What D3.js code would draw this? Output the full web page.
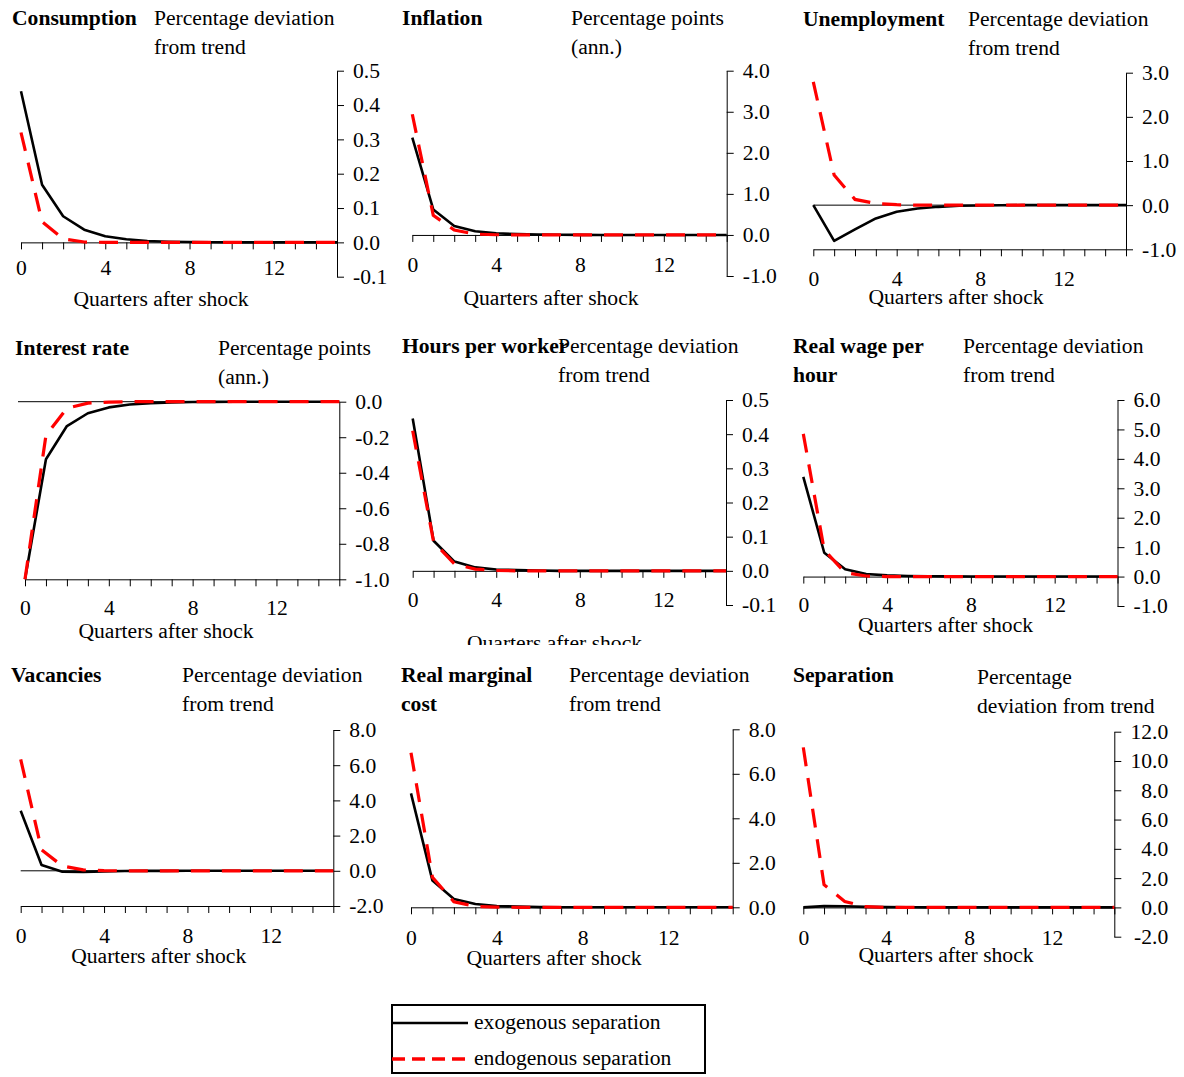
<!DOCTYPE html>
<html>
<head>
<meta charset="utf-8">
<script src="https://cdn.jsdelivr.net/npm/d3@7"></script>
<style>
  html, body { margin: 0; padding: 0; background: #fff; }
  svg { display: block; font-family: "Liberation Serif", "Times New Roman", serif; }
</style>
</head>
<body>
<div id="chart"></div>
<script>
// Quarters after the shock: 0..15
const quarters = d3.range(16);
const quarterLabels = [0, 4, 8, 12];

// Impulse responses (exogenous = black, endogenous = red dashed)
const consumptionExo = [0.44, 0.168, 0.076, 0.037, 0.018, 0.009, 0.004, 0.002, 0.001, 0.0005, 0, 0, 0, 0, 0, 0];
const consumptionEndo = [0.32, 0.06, 0.01, 0.001, 0, 0, 0, 0, 0, 0, 0, 0, 0, 0, 0, 0];
const inflationExo = [2.37, 0.62, 0.22, 0.09, 0.04, 0.02, 0.01, 0.005, 0.002, 0, 0, 0, 0, 0, 0, 0];
const inflationEndo = [2.94, 0.48, 0.12, 0.02, 0.005, 0, 0, 0, 0, 0, 0, 0, 0, 0, 0, 0];
const unemploymentExo = [0, -0.81, -0.55, -0.30, -0.15, -0.075, -0.038, -0.015, -0.007, -0.003, 0, 0, 0, 0, 0, 0];
const unemploymentEndo = [2.79, 0.68, 0.13, 0.04, 0.01, 0, 0, 0, 0, 0, 0, 0, 0, 0, 0, 0];
const interestExo = [-1.0, -0.324, -0.137, -0.065, -0.032, -0.016, -0.008, -0.004, -0.002, -0.001, 0, 0, 0, 0, 0, 0];
const interestEndo = [-1.0, -0.19, -0.037, -0.008, -0.002, 0, 0, 0, 0, 0, 0, 0, 0, 0, 0, 0];
const hoursExo = [0.446, 0.088, 0.027, 0.01, 0.004, 0.002, 0.001, 0, 0, 0, 0, 0, 0, 0, 0, 0];
const hoursEndo = [0.41, 0.085, 0.02, 0.005, 0.001, 0, 0, 0, 0, 0, 0, 0, 0, 0, 0, 0];
const wageExo = [3.39, 0.81, 0.25, 0.09, 0.04, 0.02, 0.01, 0.005, 0, 0, 0, 0, 0, 0, 0, 0];
const wageEndo = [4.85, 0.9, 0.13, 0.02, 0, 0, 0, 0, 0, 0, 0, 0, 0, 0, 0, 0];
const vacanciesExo = [3.41, 0.33, -0.05, -0.06, -0.03, -0.015, -0.007, -0.003, 0, 0, 0, 0, 0, 0, 0, 0];
const vacanciesEndo = [6.33, 1.2, 0.27, 0.05, 0.01, 0, 0, 0, 0, 0, 0, 0, 0, 0, 0, 0];
const marginalCostExo = [5.12, 1.2, 0.37, 0.15, 0.06, 0.03, 0.01, 0.005, 0, 0, 0, 0, 0, 0, 0, 0];
const marginalCostEndo = [6.95, 1.35, 0.25, 0.04, 0.01, 0, 0, 0, 0, 0, 0, 0, 0, 0, 0, 0];
const separationExo = [0, 0.09, 0.08, 0.04, 0.02, 0.01, 0.005, 0, 0, 0, 0, 0, 0, 0, 0, 0];
const separationEndo = [10.93, 1.55, 0.4, 0.05, 0, 0, 0, 0, 0, 0, 0, 0, 0, 0, 0, 0];

// Right-hand y-axis tick values
const ticksSmall = [-0.1, 0, 0.1, 0.2, 0.3, 0.4, 0.5];
const ticksInflation = [-1, 0, 1, 2, 3, 4];
const ticksUnemployment = [-1, 0, 1, 2, 3];
const ticksInterest = [-1, -0.8, -0.6, -0.4, -0.2, 0];
const ticksWage = [-1, 0, 1, 2, 3, 4, 5, 6];
const ticksVacancies = [-2, 0, 2, 4, 6, 8];
const ticksMarginalCost = [0, 2, 4, 6, 8];
const ticksSeparation = [-2, 0, 2, 4, 6, 8, 10, 12];

const legendLabels = ['exogenous separation', 'endogenous separation'];
const xTitle = 'Quarters after shock';

const W = 1184;
const H = 1077;
const FONT = 21.6;
const LINE_H = 28.5;

// Layout per panel (pixel boxes in the page, axis placement, label spots)
const panels = [
  { title: ['Consumption'], unit: ['Percentage deviation', 'from trend'],
    exo: consumptionExo, endo: consumptionEndo, ticks: ticksSmall,
    x0: 21, x1: 337, yTop: 70.7, yBot: 276.7, axisAt: 0, xLabY: 275,
    titleX: 12, titleY: 25, unitX: 154, xTitleX: 161, xTitleY: 306 },
  { title: ['Inflation'], unit: ['Percentage points', '(ann.)'],
    exo: inflationExo, endo: inflationEndo, ticks: ticksInflation,
    x0: 412.3, x1: 726.7, yTop: 70.7, yBot: 276, axisAt: 0, xLabY: 272,
    titleX: 402, titleY: 25, unitX: 571, xTitleX: 551, xTitleY: 305 },
  { title: ['Unemployment'], unit: ['Percentage deviation', 'from trend'],
    exo: unemploymentExo, endo: unemploymentEndo, ticks: ticksUnemployment,
    x0: 813.3, x1: 1126, yTop: 72.7, yBot: 249.3, axisAt: -1, xLabY: 286,
    titleX: 803, titleY: 26, unitX: 968, xTitleX: 956, xTitleY: 304 },
  { title: ['Interest rate'], unit: ['Percentage points', '(ann.)'],
    exo: interestExo, endo: interestEndo, ticks: ticksInterest,
    x0: 25, x1: 339.3, yTop: 401.7, yBot: 579.3, axisAt: -1, xLabY: 615,
    titleX: 15, titleY: 355, unitX: 218, xTitleX: 166, xTitleY: 638, zeroFrom: 18 },
  { title: ['Hours per worker'], unit: ['Percentage deviation', 'from trend'],
    exo: hoursExo, endo: hoursEndo, ticks: ticksSmall,
    x0: 412.7, x1: 726, yTop: 400, yBot: 605, axisAt: 0, xLabY: 607,
    titleX: 402, titleY: 353, unitX: 558, xTitleX: 554.5, xTitleY: 650, clipY: 645 },
  { title: ['Real wage per', 'hour'], unit: ['Percentage deviation', 'from trend'],
    exo: wageExo, endo: wageEndo, ticks: ticksWage,
    x0: 803.3, x1: 1117.5, yTop: 400, yBot: 606, axisAt: 0, xLabY: 612,
    titleX: 793, titleY: 353, unitX: 963, xTitleX: 945.5, xTitleY: 632 },
  { title: ['Vacancies'], unit: ['Percentage deviation', 'from trend'],
    exo: vacanciesExo, endo: vacanciesEndo, ticks: ticksVacancies,
    x0: 20.7, x1: 333.3, yTop: 730, yBot: 906, axisAt: -2, xLabY: 943,
    titleX: 11, titleY: 682, unitX: 182, xTitleX: 158.7, xTitleY: 963 },
  { title: ['Real marginal', 'cost'], unit: ['Percentage deviation', 'from trend'],
    exo: marginalCostExo, endo: marginalCostEndo, ticks: ticksMarginalCost,
    x0: 411, x1: 732.7, yTop: 729.3, yBot: 907.3, axisAt: 0, xLabY: 945,
    titleX: 401, titleY: 682, unitX: 569, xTitleX: 554, xTitleY: 965 },
  { title: ['Separation'], unit: ['Percentage', 'deviation from trend'],
    exo: separationExo, endo: separationEndo, ticks: ticksSeparation,
    x0: 803.3, x1: 1114.3, yTop: 731.7, yBot: 936.7, axisAt: 0, xLabY: 945,
    titleX: 793, titleY: 682, unitX: 977, unitY: 684, xTitleX: 946, xTitleY: 962,
    labelEnd: 54 },
];

const svg = d3.select('#chart').append('svg')
  .attr('width', W)
  .attr('height', H)
  .attr('viewBox', `0 0 ${W} ${H}`);

svg.append('defs').append('clipPath')
  .attr('id', 'clip-hours')
  .append('rect')
  .attr('x', 0).attr('y', 0).attr('width', W).attr('height', 645);

const fmt = (d) => (Math.abs(d) < 1e-9 ? 0 : d).toFixed(1);

panels.forEach((p, idx) => {
  const g = svg.append('g').attr('class', 'panel');

  const x = d3.scaleLinear().domain([0, 15]).range([p.x0, p.x1]);
  const y = d3.scaleLinear()
    .domain([d3.min(p.ticks), d3.max(p.ticks)])
    .range([p.yBot, p.yTop]);

  // y axis on the right
  const yAxis = g.append('g')
    .attr('transform', `translate(${p.x1},0)`)
    .call(d3.axisRight(y).tickValues(p.ticks).tickSize(7).tickSizeOuter(0)
      .tickPadding(9).tickFormat(fmt));
  yAxis.select('.domain').attr('stroke', '#000').attr('stroke-width', 1);
  yAxis.selectAll('.tick line').attr('stroke', '#000');
  yAxis.selectAll('.tick text')
    .attr('font-family', '"Liberation Serif", "Times New Roman", serif')
    .attr('font-size', FONT)
    .attr('fill', '#000');
  if (p.labelEnd) {
    yAxis.selectAll('.tick text').attr('text-anchor', 'end').attr('x', p.labelEnd);
  }

  // x axis (crosses at axisAt)
  const axisY = y(p.axisAt);
  const xAxis = g.append('g')
    .attr('transform', `translate(0,${axisY})`)
    .call(d3.axisBottom(x).tickValues(quarters).tickSize(7).tickSizeOuter(0)
      .tickFormat((d) => (quarterLabels.includes(d) ? d : '')));
  xAxis.select('.domain').attr('stroke', '#000').attr('stroke-width', 1);
  xAxis.selectAll('.tick line').attr('stroke', '#000');
  xAxis.selectAll('.tick text')
    .attr('font-family', '"Liberation Serif", "Times New Roman", serif')
    .attr('font-size', FONT)
    .attr('fill', '#000')
    .attr('y', p.xLabY - axisY)
    .attr('dy', 0);

  // thin zero line when the axis sits at the bottom
  if (p.axisAt !== 0) {
    g.append('line')
      .attr('x1', p.zeroFrom != null ? p.zeroFrom : p.x0)
      .attr('x2', p.x1)
      .attr('y1', y(0)).attr('y2', y(0))
      .attr('stroke', '#000').attr('stroke-width', 1);
  }

  const line = d3.line().x((d, i) => x(quarters[i])).y((d) => y(d));

  g.append('path')
    .datum(p.exo)
    .attr('d', line)
    .attr('fill', 'none')
    .attr('stroke', '#000')
    .attr('stroke-width', 2.6)
    .attr('stroke-linejoin', 'round');

  g.append('path')
    .datum(p.endo)
    .attr('d', line)
    .attr('fill', 'none')
    .attr('stroke', '#ff0000')
    .attr('stroke-width', 3.2)
    .attr('stroke-dasharray', '19,12');

  // titles
  g.append('text')
    .attr('x', p.titleX).attr('y', p.titleY)
    .attr('font-size', FONT).attr('font-weight', 'bold')
    .selectAll('tspan').data(p.title).join('tspan')
    .attr('x', p.titleX)
    .attr('y', (d, i) => p.titleY + i * LINE_H)
    .text((d) => d);

  const unitY = p.unitY || p.titleY;
  g.append('text')
    .attr('font-size', FONT)
    .selectAll('tspan').data(p.unit).join('tspan')
    .attr('x', p.unitX)
    .attr('y', (d, i) => unitY + i * LINE_H)
    .text((d) => d);

  const xt = g.append('text')
    .attr('x', p.xTitleX).attr('y', p.xTitleY)
    .attr('text-anchor', 'middle')
    .attr('font-size', FONT)
    .text(xTitle);
  if (p.clipY) xt.attr('clip-path', 'url(#clip-hours)');
});

// legend
const legend = svg.append('g').attr('class', 'legend');
legend.append('rect')
  .attr('x', 392).attr('y', 1005).attr('width', 313).attr('height', 68)
  .attr('fill', '#fff').attr('stroke', '#000').attr('stroke-width', 2);

const legendStyles = [
  { color: '#000', width: 2.6, dash: null, y: 1023 },
  { color: '#ff0000', width: 3.6, dash: '13,7', y: 1059 },
];
legendLabels.forEach((label, i) => {
  const s = legendStyles[i];
  const ln = legend.append('line')
    .attr('x1', 392).attr('x2', 468)
    .attr('y1', s.y).attr('y2', s.y)
    .attr('stroke', s.color).attr('stroke-width', s.width);
  if (s.dash) ln.attr('stroke-dasharray', s.dash);
  legend.append('text')
    .attr('x', 474).attr('y', s.y + 6)
    .attr('font-size', FONT)
    .text(label);
});
</script>
</body>
</html>
